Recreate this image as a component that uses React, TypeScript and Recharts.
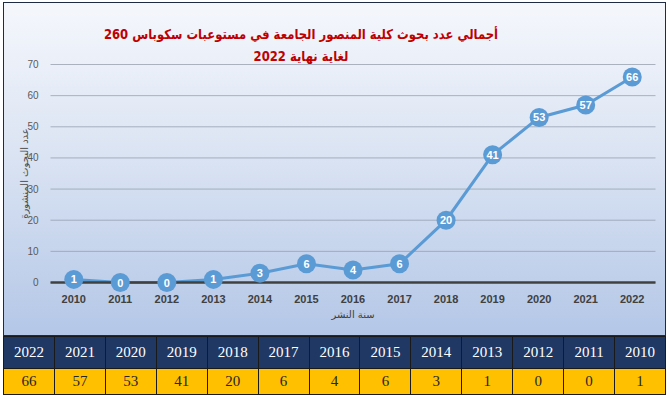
import React from "react";
import {
  LineChart,
  Line,
  XAxis,
  YAxis,
  CartesianGrid,
  Label,
} from "recharts";

// values
const years = [2010, 2011, 2012, 2013, 2014, 2015, 2016, 2017, 2018, 2019, 2020, 2021, 2022];
const papers = [1, 0, 0, 1, 3, 6, 4, 6, 20, 41, 53, 57, 66];
const yTicks = [0, 10, 20, 30, 40, 50, 60, 70];

const titleLine1 = "أجمالي عدد بحوث كلية المنصور الجامعة في مستوعبات سكوباس 260";
const titleLine2 = "لغاية نهاية 2022";
const yTitle = "عدد البحوث المنشورة";
const xTitle = "سنة النشر";

const data = years.map((y, i) => ({ idx: i, year: y, papers: papers[i] }));
const centerTicks = years.map((_, i) => i);
const edgeTicks = [...years.map((_, i) => i - 0.5), years.length - 0.5];

const renderDot = (props: any) => {
  const { cx, cy, value, index } = props;
  return (
    <g key={`dot-${index}`}>
      <circle cx={cx} cy={cy} r={9.5} fill="#5b9bd5" />
      <text
        x={cx}
        y={cy}
        dy={4}
        textAnchor="middle"
        fill="#ffffff"
        fontFamily="Liberation Sans, Arial, sans-serif"
        fontWeight="bold"
        fontSize={11}
      >
        {value}
      </text>
    </g>
  );
};

// rotated y-axis title, placed inside the axis box
const renderYTitle = (props: any) => {
  const { viewBox } = props;
  const x = viewBox.x + 20.5;
  const y = viewBox.y + viewBox.height / 2;
  return (
    <text
      x={x}
      y={y}
      transform={`rotate(-90, ${x}, ${y})`}
      textAnchor="middle"
      dominantBaseline="central"
      fill="#4d4d4d"
      fontSize={10}
      fontFamily="DejaVu Sans, sans-serif"
    >
      {yTitle}
    </text>
  );
};

const cell: React.CSSProperties = {
  border: "1px solid #1a1a1a",
  textAlign: "center",
  padding: 0,
};

export default function App() {
  const reversedYears = [...years].reverse();
  const reversedPapers = [...papers].reverse();
  return (
    <div
      style={{
        position: "fixed",
        left: 0,
        top: 0,
        width: 670,
        height: 399,
        background: "#ffffff",
        overflow: "hidden",
      }}
    >
      <div
        style={{
          position: "absolute",
          left: 3,
          top: 2,
          width: 663,
          height: 334,
          boxSizing: "border-box",
          border: "1.5px solid #1f2a44",
          background: "linear-gradient(180deg, #f5f7fc 0%, #dbe4f3 45%, #b4c7e7 100%)",
        }}
      >
        <LineChart
          width={660}
          height={331}
          data={data}
          margin={{ top: 61.5, right: 8.5, left: 0, bottom: 0 }}
        >
          <CartesianGrid
            vertical={false}
            stroke="#8f98a8"
            strokeOpacity={0.7}
            xAxisId="years"
          />
          <XAxis
            xAxisId="edges"
            type="number"
            dataKey="idx"
            domain={[-0.5, years.length - 0.5]}
            ticks={edgeTicks}
            interval={0}
            tick={false}
            tickSize={5}
            tickLine={{ stroke: "#404040", strokeWidth: 1.5 }}
            axisLine={{ stroke: "#404040", strokeWidth: 2.5 }}
            height={5}
          />
          <XAxis
            xAxisId="years"
            type="number"
            dataKey="idx"
            domain={[-0.5, years.length - 0.5]}
            ticks={centerTicks}
            interval={0}
            tickFormatter={(v: number) => String(years[v])}
            tickLine={false}
            axisLine={false}
            tickMargin={2}
            tick={{
              fill: "#404040",
              fontSize: 11,
              fontWeight: "bold",
              fontFamily: "Liberation Sans, Arial, sans-serif",
            }}
            height={46.5}
          >
            <Label
              value={xTitle}
              position="insideBottom"
              offset={16}
              fill="#404040"
              fontSize={10}
              fontFamily="DejaVu Sans, sans-serif"
            />
          </XAxis>
          <YAxis
            domain={[0, 70]}
            ticks={yTicks}
            tickLine={false}
            axisLine={false}
            width={46.5}
            tickMargin={6}
            tick={{
              fill: "#595959",
              fontSize: 10,
              fontFamily: "Liberation Sans, Arial, sans-serif",
            }}
          >
            <Label content={renderYTitle} />
          </YAxis>
          <Line
            xAxisId="years"
            type="linear"
            dataKey="papers"
            stroke="#5b9bd5"
            strokeWidth={3}
            dot={renderDot}
            activeDot={false}
            isAnimationActive={false}
          />
        </LineChart>
        <div
          dir="rtl"
          style={{
            position: "absolute",
            left: 47,
            top: 20,
            width: 500,
            textAlign: "center",
            color: "#c00000",
            fontFamily: "DejaVu Sans, sans-serif",
            fontWeight: "bold",
            fontSize: 13.5,
            lineHeight: "22px",
            whiteSpace: "nowrap",
            transform: "scaleX(0.86)",
            transformOrigin: "50% 50%",
          }}
        >
          <div>{titleLine1}</div>
          <div>{titleLine2}</div>
        </div>
      </div>
      <table
        style={{
          position: "absolute",
          left: 3,
          top: 336,
          width: 663,
          borderCollapse: "collapse",
          tableLayout: "fixed",
          fontFamily: "Liberation Serif, Times New Roman, serif",
          fontSize: 15,
        }}
      >
        <tbody>
          <tr style={{ height: 32, background: "#1f3864", color: "#ffffff" }}>
            {reversedYears.map((y) => (
              <td key={`h-${y}`} style={cell}>
                {y}
              </td>
            ))}
          </tr>
          <tr style={{ height: 26, background: "#ffc000", color: "#262626" }}>
            {reversedPapers.map((v, i) => (
              <td key={`v-${i}`} style={cell}>
                {v}
              </td>
            ))}
          </tr>
        </tbody>
      </table>
    </div>
  );
}
